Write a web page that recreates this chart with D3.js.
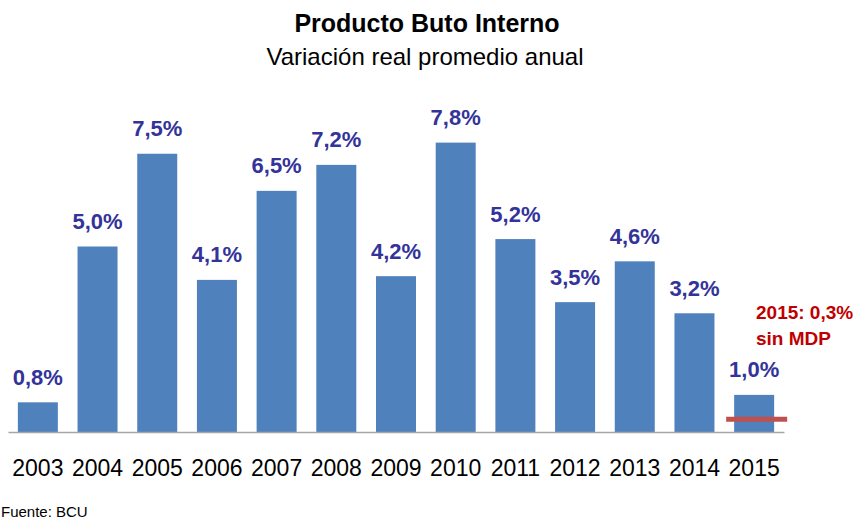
<!DOCTYPE html>
<html><head><meta charset="utf-8">
<script src="https://cdn.jsdelivr.net/npm/d3@7"></script>
<style>html,body{margin:0;padding:0;background:#fff;}svg{display:block;}</style>
</head><body>
<svg id="c" width="855" height="520"></svg>
<script>
const years = ["2003","2004","2005","2006","2007","2008","2009","2010","2011","2012","2013","2014","2015"];
const values = [0.8,5.0,7.5,4.1,6.5,7.2,4.2,7.8,5.2,3.5,4.6,3.2,1.0];
const labels = ["0,8%","5,0%","7,5%","4,1%","6,5%","7,2%","4,2%","7,8%","5,2%","3,5%","4,6%","3,2%","1,0%"];
const mdpYear = "2015";
const mdpValue = 0.3;
const titleText = "Producto Buto Interno";
const subtitleText = "Variación real promedio anual";
const noteLines = ["2015: 0,3%","sin MDP"];
const sourceText = "Fuente: BCU";

const svg = d3.select("#c");
const font = "'Liberation Sans', Arial, sans-serif";
const x = d3.scaleBand().domain(years).range([8,784]).paddingInner(0.33).paddingOuter(0.165);
const y = d3.scaleLinear().domain([0,8]).range([432, 432-37.1*8]);

svg.append("text").attr("x",427).attr("y",32).attr("text-anchor","middle")
  .attr("font-family",font).attr("font-weight","bold").attr("font-size",25).text(titleText);
svg.append("text").attr("x",425).attr("y",65).attr("text-anchor","middle")
  .attr("font-family",font).attr("font-size",24).text(subtitleText);

svg.selectAll("rect.bar").data(years).enter().append("rect").attr("class","bar")
  .attr("x",d=>x(d)).attr("width",x.bandwidth())
  .attr("y",(d,i)=>y(values[i])).attr("height",(d,i)=>y(0)-y(values[i]))
  .attr("fill","#4F81BD");

svg.selectAll("text.val").data(years).enter().append("text").attr("class","val")
  .attr("x",d=>x(d)+x.bandwidth()/2).attr("y",(d,i)=>y(values[i])-17.5)
  .attr("text-anchor","middle").attr("font-family",font).attr("font-weight","bold")
  .attr("font-size",22).attr("fill","#333399").text((d,i)=>labels[i]);

// axis
const axis = d3.axisBottom(x).tickSize(0).tickPadding(0);
const g = svg.append("g").attr("transform",`translate(0,${y(0)})`).call(axis);
g.select(".domain").attr("stroke","#A6A6A6").attr("stroke-width",1.5);
g.selectAll(".tick text").attr("font-family",font).attr("font-size",23).attr("fill","#000")
  .attr("dy",null).attr("y",44);

// MDP line
const bw = x.bandwidth();
svg.append("line").attr("x1",x(mdpYear)-8).attr("x2",x(mdpYear)+bw+13)
  .attr("y1",y(mdpValue)-1.5).attr("y2",y(mdpValue)-1.5)
  .attr("stroke","#C0504D").attr("stroke-width",5);

noteLines.forEach((t,i)=>{
  svg.append("text").attr("x",756).attr("y",319+i*26).attr("font-family",font)
    .attr("font-weight","bold").attr("font-size",19).attr("fill","#C00000").text(t);
});

svg.append("text").attr("x",1).attr("y",517).attr("font-family",font).attr("font-size",15).text(sourceText);
</script>
</body></html>
